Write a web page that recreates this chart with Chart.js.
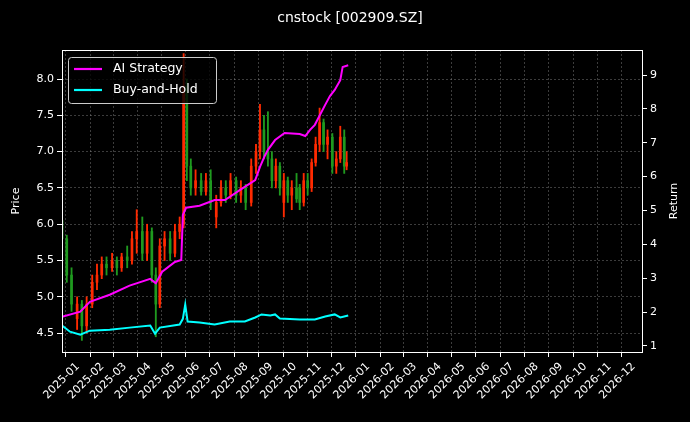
<!DOCTYPE html>
<html><head><meta charset="utf-8">
<script src="https://cdn.jsdelivr.net/npm/chart.js@4"></script>
<style>html,body{margin:0;background:#000;}#w{width:690px;height:422px;}</style>
</head><body><div id="w"><canvas id="c"></canvas></div>
<script>
const title = "cnstock [002909.SZ]";
const monthLabels = ["2025-01","2025-02","2025-03","2025-04","2025-05","2025-06","2025-07","2025-08","2025-09","2025-10","2025-11","2025-12","2026-01","2026-02","2026-03","2026-04","2026-05","2026-06","2026-07","2026-08","2026-09","2026-10","2026-11","2026-12"];
// days since 2025-01-01
const candleDays = [-20,-14,-8,-1,5,11,18,24,30,36,43,49,55,62,68,74,81,87,93,98,103,109,116,122,128,133,137,142,148,155,161,167,174,180,186,192,199,205,211,218,224,229,234,239,244,249,254,259,264,269,275,279,284,289,294,299,304,309,314,320,325,330,335,338];
const opens  = [6.05,5.8,5.3,4.7,4.9,4.6,4.9,5.2,5.3,5.45,5.4,5.5,5.4,5.55,5.5,5.8,5.9,5.6,5.9,5.3,4.9,5.7,5.8,5.6,5.9,6.0,7.9,6.8,6.5,6.6,6.45,6.6,6.1,6.3,6.5,6.4,6.6,6.4,6.5,6.3,6.8,7.0,7.3,7.0,6.9,6.6,6.8,6.3,6.6,6.4,6.5,6.5,6.3,6.6,6.5,6.85,7.1,7.4,7.1,7.2,6.8,6.9,7.2,6.8];
const highs  = [6.1,5.85,5.4,5.0,4.95,5.0,5.3,5.45,5.55,5.55,5.6,5.55,5.6,5.7,5.9,6.2,6.1,6.0,5.95,5.4,5.8,5.9,5.9,6.0,6.1,8.35,8.0,6.9,6.75,6.7,6.7,6.75,6.4,6.6,6.6,6.7,6.65,6.6,6.55,6.9,7.1,7.65,7.5,7.55,7.0,6.9,6.85,6.7,6.65,6.6,6.7,6.55,6.7,6.7,6.9,7.2,7.6,7.45,7.3,7.25,7.0,7.35,7.3,7.0];
const lows   = [5.7,5.2,4.8,4.55,4.4,4.5,4.85,5.1,5.25,5.3,5.35,5.3,5.35,5.4,5.45,5.6,5.5,5.5,5.2,4.45,4.85,5.5,5.5,5.55,5.8,5.95,6.6,6.4,6.4,6.4,6.4,6.2,5.95,6.25,6.3,6.35,6.3,6.3,6.2,6.25,6.7,6.9,6.9,6.8,6.5,6.5,6.4,6.1,6.3,6.2,6.3,6.2,6.25,6.4,6.45,6.8,7.0,7.0,6.9,6.7,6.7,6.85,6.7,6.75];
const closes = [5.8,5.3,4.9,4.9,4.6,4.9,5.2,5.3,5.45,5.4,5.5,5.4,5.55,5.5,5.8,5.9,5.6,5.9,5.3,4.9,5.7,5.8,5.6,5.9,6.0,7.9,6.8,6.5,6.6,6.45,6.6,6.3,6.3,6.5,6.4,6.6,6.4,6.5,6.3,6.8,7.0,7.3,7.0,6.9,6.6,6.8,6.5,6.6,6.4,6.5,6.35,6.3,6.6,6.5,6.85,7.1,7.4,7.1,7.2,6.8,6.9,7.2,6.8,6.85];
const aiDays = [-20,3,15,40,65,91,98,106,122,130,132,136,153,172,185,204,223,229,235,239,248,260,279,286,292,298,311,317,323,330,333,340];
const aiReturn = [1.86,2.01,2.30,2.51,2.78,2.98,2.85,3.19,3.48,3.54,4.87,5.08,5.14,5.31,5.31,5.61,5.90,6.29,6.61,6.79,7.08,7.29,7.26,7.20,7.38,7.53,8.12,8.38,8.56,8.85,9.24,9.29];
const bhDays = [-20,-10,3,15,40,65,91,97,103,128,132,135,138,153,172,191,210,223,231,242,248,254,279,298,311,323,330,340];
const bhReturn = [1.60,1.42,1.33,1.45,1.48,1.54,1.60,1.36,1.54,1.63,1.80,2.22,1.72,1.69,1.63,1.72,1.72,1.84,1.93,1.90,1.93,1.81,1.78,1.78,1.87,1.93,1.84,1.90];

const base = Date.UTC(2025,0,1);
const monthPos = monthLabels.map(m => { const [y,mo]=m.split('-').map(Number); return (Date.UTC(y,mo-1,1)-base)/86400000; });
const up = opens.map((o,i)=>closes[i]>=o);
const colUp = '#ff2a00', colDn = '#1f9a1f';
const cols = up.map(u=>u?colUp:colDn);
const font = {family:'DejaVu Sans', size:11};

const overlay = {
  id:'overlay',
  afterDraw(ch){
    const {ctx, chartArea:a} = ch;
    ctx.save();
    ctx.strokeStyle='#fff'; ctx.lineWidth=1;
    ctx.strokeRect(a.left+0.5,a.top+0.5,a.right-a.left,a.bottom-a.top);
    ctx.fillStyle='#fff'; ctx.font='14px DejaVu Sans'; ctx.textAlign='center'; ctx.textBaseline='middle';
    ctx.fillText(title, 350, 18);
    // right axis title
    ctx.save(); ctx.font='11px DejaVu Sans'; ctx.translate(674,(a.top+a.bottom)/2); ctx.rotate(-Math.PI/2); ctx.fillText('Return',0,0); ctx.restore();
    // legend
    const lx=a.left+6, ly=a.top+7, w=148, h=46;
    ctx.fillStyle='rgba(0,0,0,0.8)'; ctx.strokeStyle='#cccccc';
    ctx.beginPath(); ctx.roundRect(lx+0.5,ly+0.5,w,h,3); ctx.fill(); ctx.stroke();
    const items=[['AI Strategy','#ff00ff'],['Buy-and-Hold','#00ffff']];
    ctx.font='12.5px DejaVu Sans'; ctx.textAlign='left';
    items.forEach((it,i)=>{ const yy=ly+12+i*21; ctx.strokeStyle=it[1]; ctx.lineWidth=2.2; ctx.beginPath(); ctx.moveTo(lx+6,yy); ctx.lineTo(lx+34,yy); ctx.stroke(); ctx.fillStyle='#fff'; ctx.fillText(it[0], lx+45, yy); });
    ctx.restore();
  }
};

new Chart(document.getElementById('c'), {
  type:'bar',
  data:{ datasets:[
    {type:'line', label:'AI Strategy', yAxisID:'y1', data:aiDays.map((d,i)=>({x:d,y:aiReturn[i]})), borderColor:'#ff00ff', borderWidth:2, pointRadius:0, tension:0, order:0},
    {type:'line', label:'Buy-and-Hold', yAxisID:'y1', data:bhDays.map((d,i)=>({x:d,y:bhReturn[i]})), borderColor:'#00ffff', borderWidth:2, pointRadius:0, tension:0, order:0},
    {label:'wick', yAxisID:'y', data:candleDays.map((d,i)=>({x:d,y:[lows[i],highs[i]]})), backgroundColor:cols, barThickness:1.2, grouped:false, order:2},
    {label:'body', yAxisID:'y', data:candleDays.map((d,i)=>({x:d,y:[Math.min(opens[i],closes[i]),Math.max(opens[i],closes[i])]})), backgroundColor:cols, barThickness:2, grouped:false, order:1},
  ]},
  options:{
    responsive:true, maintainAspectRatio:false, animation:false,
    layout:{padding:{top:50,left:10,right:10,bottom:0}},
    plugins:{legend:{display:false}, tooltip:{enabled:false}},
    scales:{
      x:{type:'linear', min:-20, max:709.5, offset:false,
        afterBuildTicks(s){ s.ticks = monthPos.map(v=>({value:v})); },
        afterFit(s){ s.height = 70; },
        ticks:{color:'#fff', font, maxRotation:45, minRotation:45, autoSkip:false, callback:(v,i)=>monthLabels[i]},
        grid:{color:'rgba(150,150,150,0.4)', tickColor:'#fff', tickLength:5, drawTicks:true},
        border:{display:false, dash:[2,2]},
      },
      y:{position:'left', min:4.24, max:8.4,
        afterBuildTicks(s){ s.ticks=[4.5,5,5.5,6,6.5,7,7.5,8].map(v=>({value:v})); },
        afterFit(s){ s.width = 52; },
        ticks:{color:'#fff', font, callback:v=>v.toFixed(1)},
        title:{display:true, text:'Price', color:'#fff', font, padding:0},
        grid:{color:'rgba(150,150,150,0.4)', tickColor:'#fff', tickLength:5},
        border:{display:false, dash:[2,2]},
      },
      y1:{position:'right', min:0.82, max:9.74,
        afterBuildTicks(s){ s.ticks=[1,2,3,4,5,6,7,8,9].map(v=>({value:v})); },
        afterFit(s){ s.width = 38; },
        ticks:{color:'#fff', font},
        grid:{drawOnChartArea:false, tickColor:'#fff', tickLength:5},
        border:{display:false},
      }
    }
  },
  plugins:[overlay]
});
</script></body></html>
